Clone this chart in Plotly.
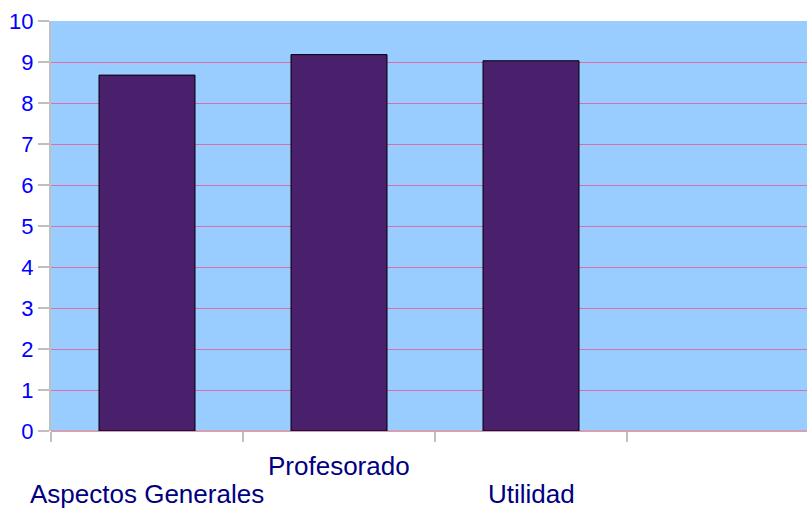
import plotly.graph_objects as go

categories = ["Aspectos Generales", "Profesorado", "Utilidad"]
values = [8.68, 9.18, 9.03]
label_offsets = [-63, -35, -63]  # staggered label rows (px below axis)

x_pos = list(range(len(categories)))

fig = go.Figure()
fig.add_trace(go.Bar(
    x=x_pos, y=values, width=0.5,
    marker=dict(color="#4A1F6C", line=dict(color="#000000", width=1)),
    hoverinfo="skip",
))

for i, (cat, off) in enumerate(zip(categories, label_offsets)):
    fig.add_annotation(
        x=i, y=0, xref="x", yref="y", text=cat, showarrow=False,
        yshift=off, xanchor="center", yanchor="middle", borderpad=0,
        font=dict(family="Liberation Sans, Arial", size=26, color="#000080"),
    )

fig.update_layout(
    width=807, height=510,
    margin=dict(l=51, r=0, t=21, b=79),
    paper_bgcolor="white",
    plot_bgcolor="#99CCFF",
    showlegend=False,
    xaxis=dict(
        range=[-0.5, -0.5 + 756 / 192],
        tickmode="array",
        tickvals=[-0.5, 0.5, 1.5, 2.5, 3.5],
        showticklabels=False,
        ticks="outside", ticklen=10, tickcolor="#BFBFBF", tickwidth=2,
        showgrid=False, zeroline=False,
        showline=False,
    ),
    yaxis=dict(
        range=[0, 10], dtick=1,
        tickfont=dict(family="Liberation Sans, Arial", size=22, color="#0000FF"),
        ticks="outside", ticklen=11, tickcolor="#BFBFBF", tickwidth=2,
        showgrid=True, gridcolor="#DD6FA6", gridwidth=1.2,
        zeroline=True, zerolinecolor="#D4A0B4", zerolinewidth=2,
        showline=True, linecolor="#BFBFBF", linewidth=2,
        fixedrange=True,
    ),
)

fig.write_html(
    "out.html",
    config={"displayModeBar": False},
    post_script="document.body.style.margin='0';document.body.style.overflow='hidden';",
)
